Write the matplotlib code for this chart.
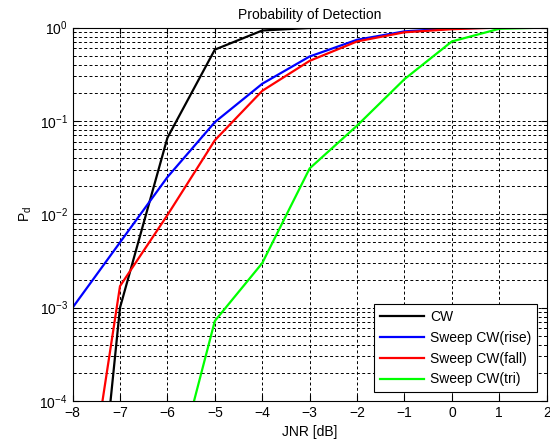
import matplotlib
matplotlib.use("Agg")
import matplotlib.pyplot as plt
import numpy as np
from matplotlib.ticker import LogLocator, NullFormatter

plt.rcParams['font.family'] = ['Liberation Sans', 'DejaVu Sans']

jnr = [-8, -7, -6, -5, -4, -3, -2, -1, 0, 1, 2]
pd_cw = [1e-8, 1.0e-3, 0.066, 0.58, 0.93, 0.99, 1.0, 1.0, 1.0, 1.0, 1.0]
pd_rise = [1.0e-3, 0.005, 0.025, 0.097, 0.25, 0.49, 0.74, 0.91, 0.98, 1.0, 1.0]
pd_fall = [8e-7, 0.0017, 0.0098, 0.062, 0.21, 0.44, 0.71, 0.89, 0.96, 1.0, 1.0]
pd_tri = [1e-7, 1e-6, 8e-6, 7.2e-4, 0.003, 0.031, 0.089, 0.28, 0.71, 0.97, 1.0]

labels = ['CW', 'Sweep CW(rise)', 'Sweep CW(fall)', 'Sweep CW(tri)']
colors = ['black', 'blue', 'red', '#00ff00']

fig = plt.figure(figsize=(5.5, 4.43), dpi=100)
ax = fig.add_axes([0.132, 0.0948, 0.862, 0.843])

for y, lab, c in zip([pd_cw, pd_rise, pd_fall, pd_tri], labels, colors):
    ax.plot(jnr, y, color=c, lw=1.6, label=lab)

ax.set_yscale('log')
ax.set_xlim(-8, 2)
ax.set_ylim(1e-4, 1)
ax.set_xticks(range(-8, 3))
ax.yaxis.set_major_locator(LogLocator(base=10, numticks=10))
ax.yaxis.set_minor_locator(LogLocator(base=10, subs=np.arange(2, 10), numticks=10))
ax.yaxis.set_minor_formatter(NullFormatter())

ax.grid(True, which='major', axis='both', color='black', linestyle=(0, (3, 2.5)), lw=0.7)
ax.grid(True, which='minor', axis='y', color='black', linestyle=(0, (3, 2.5)), lw=0.7)

ax.tick_params(which='both', direction='in', top=True, right=True, labelsize=10)
ax.tick_params(which='major', length=4)
ax.tick_params(which='minor', length=2)
for s in ax.spines.values():
    s.set_linewidth(0.8)

ax.set_title('Probability of Detection', fontsize=10)
ax.set_xlabel('JNR [dB]', fontsize=10)
ax.set_ylabel(r'P$_\mathregular{d}$', fontsize=10)

leg = ax.legend(loc='lower right', bbox_to_anchor=(0.979, 0.024), borderaxespad=0,
                fontsize=10, handlelength=3.2, handletextpad=0.4, fancybox=False,
                framealpha=1, edgecolor='black', labelspacing=0.5)
leg.get_frame().set_linewidth(0.8)

fig.savefig('out.png', dpi=100)
